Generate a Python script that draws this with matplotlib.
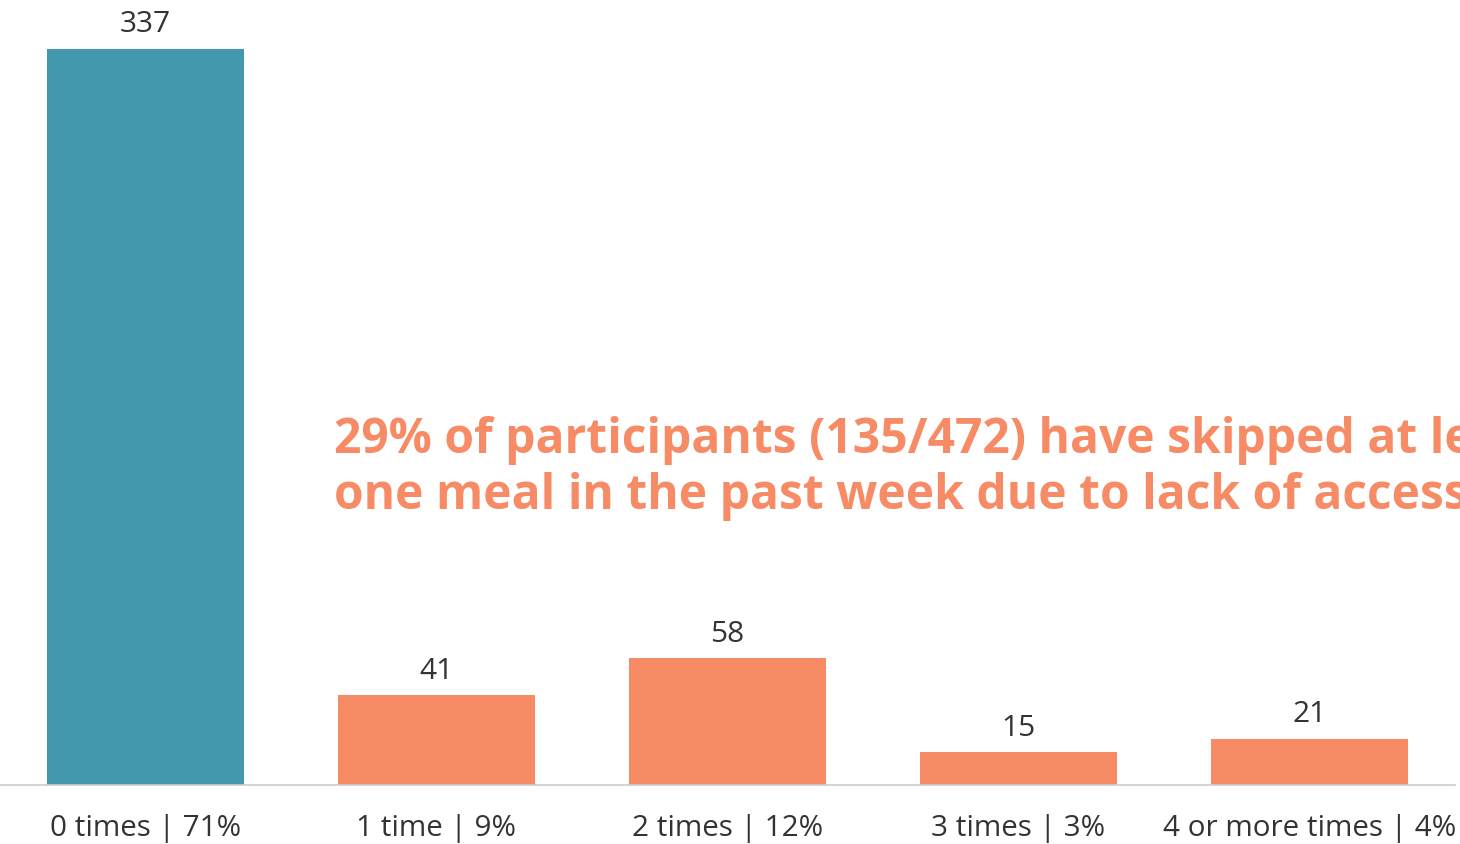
import matplotlib.pyplot as plt

#data
categories = ["0 times | 71%", "1 time | 9%", "2 times | 12%", "3 times | 3%", "4 or more times | 4%"]
counts = [337, 41, 58, 15, 21]
bar_colors = ["#4398AE", "#F68B65", "#F68B65", "#F68B65", "#F68B65"]
note = "29% of participants (135/472) have skipped at least\none meal in the past week due to lack of access to food"

plt.rcParams["font.family"] = ["Open Sans", "DejaVu Sans"]

fig = plt.figure(figsize=(14.6, 8.44), dpi=100)
ax = fig.add_axes([0, 59 / 844, 1455 / 1460, 1 - 59 / 844])

x = range(len(counts))
bars = ax.bar(x, counts, width=0.68, color=bar_colors, zorder=2)
for b, v in zip(bars, counts):
    ax.annotate(str(v), (b.get_x() + b.get_width() / 2, v), xytext=(0, 7),
                textcoords="offset points", ha="center", va="bottom",
                fontsize=21.5, color="#333333")

ax.set_xlim(-0.5, 4.5)
ax.set_ylim(0, 359.4)
ax.set_xticks(list(x))
ax.set_xticklabels(categories, fontsize=21.3, color="#333333")
ax.tick_params(axis="x", length=0, pad=21)
ax.set_yticks([])
for s in ["top", "left", "right"]:
    ax.spines[s].set_visible(False)
ax.spines["bottom"].set_color("#CCCCCC")
ax.spines["bottom"].set_linewidth(1.2)

#annotation
ax.text(334 / 1455, 1 - 416 / 785, note, transform=ax.transAxes, ha="left", va="top",
        fontsize=34.6, fontweight="bold", color="#F68B65", linespacing=1.18, clip_on=False)

fig.savefig("out.png", dpi=100)
